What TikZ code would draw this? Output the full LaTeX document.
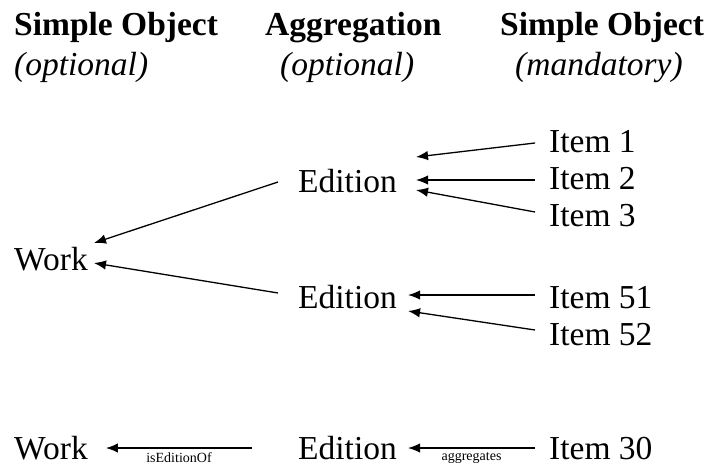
\documentclass[tikz,border=0pt]{standalone}
\usepackage{fontspec}
\setmainfont{Liberation Serif}
\usetikzlibrary{arrows.meta}
\begin{document}
\begin{tikzpicture}[x=1pt,y=-1pt,
  lbl/.style={inner sep=0pt,anchor=base west,font=\fontsize{33.5}{33.5}\selectfont},
  head/.style={lbl,font=\fontsize{33.5}{33.5}\selectfont\bfseries},
  sub/.style={lbl,font=\fontsize{33.5}{33.5}\selectfont\itshape},
  rel/.style={inner sep=0pt,font=\fontsize{14}{14}\selectfont},
  arr/.style={line width=1.3pt,-{Latex[length=12pt,width=9.5pt]}}]
\useasboundingbox (0,0) rectangle (709,471);

% column headings
\node[head] (h1)  at (14,35)  {Simple Object};
\node[sub]  (h1o) at (14,75)  {(optional)};
\node[head] (h2)  at (265,35) {Aggregation};
\node[sub]  (h2o) at (280,75) {(optional)};
\node[head] (h3)  at (500,35) {Simple Object};
\node[sub]  (h3o) at (515,75) {(mandatory)};

% hierarchy
\node[lbl] (wk1) at (14,270)  {Work};
\node[lbl] (ed1) at (298,192) {Edition};
\node[lbl] (ed2) at (298,308) {Edition};
\node[lbl] (i1)  at (549,152) {Item 1};
\node[lbl] (i2)  at (549,189) {Item 2};
\node[lbl] (i3)  at (549,226) {Item 3};
\node[lbl] (i51) at (549,308) {Item 51};
\node[lbl] (i52) at (549,345) {Item 52};

\draw[arr] ([shift={(-14,-9)}]i1.base west)  -- ([shift={(19,-35)}]ed1.base east);
\draw[arr] ([shift={(-14,-9)}]i2.base west)  -- ([shift={(19,-12)}]ed1.base east);
\draw[arr] ([shift={(-14,-14)}]i3.base west) -- ([shift={(19,-2)}]ed1.base east);
\draw[arr] ([shift={(-20,-10)}]ed1.base west) -- ([shift={(6,-27)}]wk1.base east);
\draw[arr] ([shift={(-20,-15)}]ed2.base west) -- ([shift={(6,-7)}]wk1.base east);
\draw[arr] ([shift={(-14,-13)}]i51.base west) -- ([shift={(11,-13)}]ed2.base east);
\draw[arr] ([shift={(-14,-15)}]i52.base west) -- ([shift={(11,3)}]ed2.base east);

% single chain with relation names
\node[lbl] (wk2) at (14,459)  {Work};
\node[lbl] (ed3) at (298,459) {Edition};
\node[lbl] (i30) at (549,459) {Item 30};
\draw[arr] ([shift={(-46,-11)}]ed3.base west) -- ([shift={(18,-11)}]wk2.base east)
  node[rel,midway,below=4pt] {isEditionOf};
\draw[arr] ([shift={(-14,-11)}]i30.base west) -- ([shift={(11,-11)}]ed3.base east)
  node[rel,midway,below=4pt] {aggregates};
\end{tikzpicture}
\end{document}
